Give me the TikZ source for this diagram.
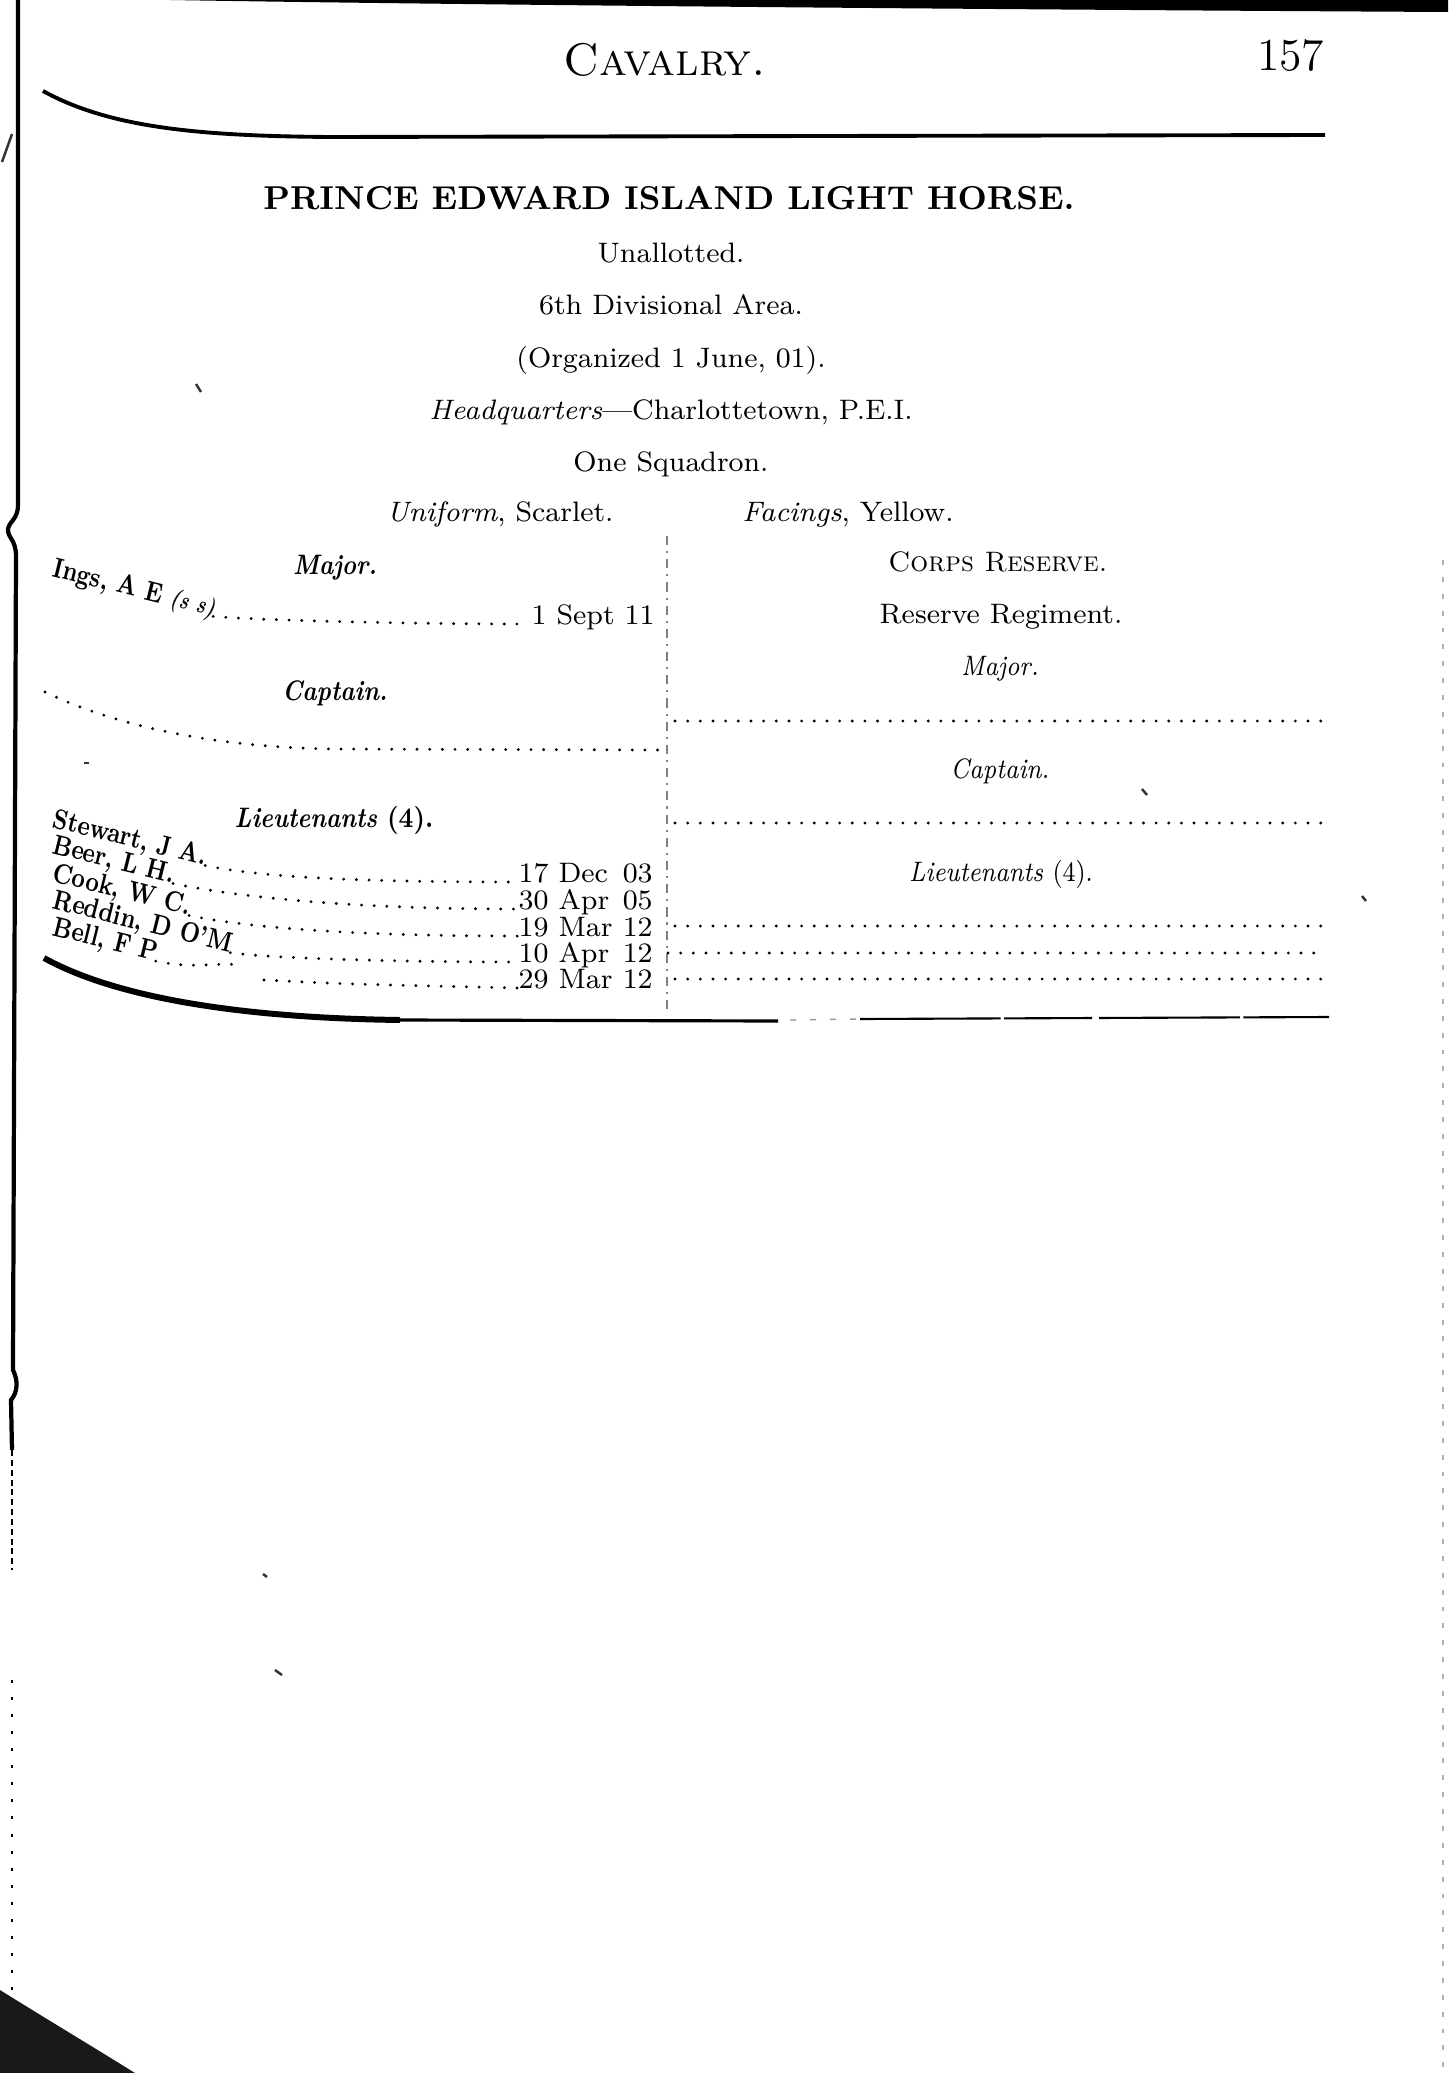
\documentclass[tikz,border=0pt]{standalone}
\usepackage{tikz}
\usetikzlibrary{positioning}

\begin{document}
\begin{tikzpicture}[
  x=0.01cm, y=-0.01cm,
  node distance=0.197cm,
  font=\fontsize{8}{10}\selectfont,
  textline/.style={inner sep=0pt, text height=1.6ex, text depth=.45ex},
  unithead/.style={inner sep=0pt, font=\fontsize{9.4}{11}\selectfont\bfseries},
  rankL/.style={textline, xscale=0.86, font=\fontsize{8}{10}\selectfont\bfseries\itshape},
  rankR/.style={textline, xscale=0.87, font=\fontsize{8}{10}\selectfont\itshape},
  officer/.style={inner sep=0pt, anchor=base west, rotate=-14, xscale=0.78,
    font=\fontsize{8}{10}\selectfont\bfseries},
  seniority/.style={inner sep=0pt, anchor=base west},
  leader/.style={line width=0.9pt, line cap=round, dash pattern=on 0pt off 3.6pt},
  pagerule/.style={line width=1.1pt},
  scanmark/.style={line width=0.7pt, black!80}
]
\useasboundingbox (0,0) rectangle (1448,2073);
\fill[white] (0,0) rectangle (1448,2073);

% running head
\fill (170,0) -- (1448,0) -- (1448,12) .. controls (900,9) and (400,4) .. (170,0) -- cycle;
\node[inner sep=0pt, anchor=base, font=\fontsize{13}{15}\selectfont] (runhead) at (665,76) {\textsc{Cavalry.}};
\node[inner sep=0pt, anchor=base east, font=\fontsize{13}{15}\selectfont] (pageno) at (1325,71) {157};
\draw[pagerule] (43,91) .. controls (110,128) and (200,136) .. (330,137) -- (1325,135);

% unit heading
\node[unithead] (unit) at (669,198) {PRINCE EDWARD ISLAND LIGHT HORSE.};
\node[textline] (allot) at (671,254) {Unallotted.};
\node[textline, below=of allot] (area) {6th Divisional Area.};
\node[textline, below=of area] (organized) {(Organized 1 June, 01).};
\node[textline, below=of organized] (hq) {\textit{Headquarters}---Charlottetown, P.E.I.};
\node[textline, below=of hq] (squadron) {One Squadron.};
\node[textline] (uniform) at (500,513) {\textit{Uniform}, Scarlet.};
\node[textline] (facings) at (848,513) {\textit{Facings}, Yellow.};

% column divider
\draw[black!50, line width=0.4pt, dash pattern=on 2.6pt off 1.7pt on 0.6pt off 1.7pt] (667,536) -- (667,1012);

% left column: active list
\node[rankL] (majorL) at (335,566) {Major.};
\node[officer] (ings) at (51,576) {Ings, A E {\scriptsize\itshape(s s)}};
\node[seniority] (ingsdate) at (531,624) {1 Sept 11};
\draw[leader] (ings.base east) .. controls +(5:40) and +(-120,0) .. ([xshift=-2pt]ingsdate.base west);

\node[rankL] (captainL) at (335,692) {Captain.};
\draw[leader] (45,692) .. controls (120,728) and (220,747) .. (330,749) -- (660,750);

\node[rankL] (lieutsL) at (334,819) {Lieutenants \textup{(4).}};
\node[officer] (stewart) at (51,827) {Stewart, J A.};
\node[officer] (beer) at (51,853) {Beer, L H.};
\node[officer] (cook) at (51,881) {Cook, W C.};
\node[officer] (reddin) at (51,908) {Reddin, D O'M};
\node[officer] (bell) at (51,935) {Bell, F P};
\node[seniority] (stewartdate) at (518,882) {\makebox[3.7em][l]{17 Dec}03};
\node[seniority] (beerdate) at (518,909) {\makebox[3.7em][l]{30 Apr}05};
\node[seniority] (cookdate) at (518,936) {\makebox[3.7em][l]{19 Mar}12};
\node[seniority] (reddindate) at (518,962) {\makebox[3.7em][l]{10 Apr}12};
\node[seniority] (belldate) at (518,988) {\makebox[3.7em][l]{29 Mar}12};
\draw[leader] (stewart.base east) .. controls +(12:60) and +(-150,0) .. (stewartdate.base west);
\draw[leader] (beer.base east) .. controls +(12:70) and +(-160,0) .. (beerdate.base west);
\draw[leader] (cook.base east) .. controls +(12:60) and +(-160,0) .. (cookdate.base west);
\draw[leader] (reddin.base east) .. controls +(8:40) and +(-120,0) .. (reddindate.base west);
\coordinate (bellgap) at (243,965);
\coordinate (bellrest) at (264,980);
\draw[leader] (bell.base east) .. controls +(12:40) and +(-30,-3) .. (bellgap);
\draw[leader] (bellrest) .. controls +(80,4) .. (belldate.base west);

% right column: corps reserve
\node[textline] (corps) at (998,563) {\textsc{Corps Reserve.}};
\node[textline] (regiment) at (1001,615) {Reserve Regiment.};
\node[rankR] (majorR) at (1000,667) {Major.};
\draw[leader] (675,721) -- (1324,721);
\node[rankR] (captainR) at (1000,770) {Captain.};
\draw[leader] (675,823) -- (1324,823);
\node[rankR] (lieutsR) at (1001,873) {Lieutenants \textup{(4).}};
\draw[leader] (675,926) -- (1324,926);
\draw[leader] (668,953) -- (1324,953);
\draw[leader] (675,979) -- (1324,979);

% foot rule
\draw[pagerule, line width=1.7pt] (44,958) .. controls (120,1000) and (250,1018) .. (400,1020);
\draw[pagerule, line width=0.9pt] (400,1020) -- (778,1021);
\draw[line width=0.6pt, dash pattern=on 40pt off 1pt on 25pt off 2pt] (860,1019) -- (1329,1017);
\draw[black!40, line width=0.4pt, dash pattern=on 1.7pt off 4pt] (790,1020) -- (858,1019);

% page edge and scan marks
\draw[line width=1.2pt] (18,0) -- (18,505) .. controls (18,520) and (8,522) .. (8,530)
  .. controls (8,538) and (16,540) .. (16,556) -- (13,1370) .. controls (18,1380) and (18,1392) .. (11,1400)
  -- (12,1450);
\draw[line width=0.7pt, dash pattern=on 1.7pt off 1.1pt] (12,1450) -- (12,1570);
\draw[line width=0.7pt, dash pattern=on 0.85pt off 4pt] (12,1680) -- (12,1995);
\draw[scanmark] (2,162) -- (12,134);
\draw[black!30, line width=0.4pt, dash pattern=on 1.4pt off 3.4pt] (1443,560) -- (1443,2073);
\fill[black!90] (0,1990) .. controls (40,2015) and (90,2045) .. (135,2073) -- (0,2073) -- cycle;
\draw[scanmark] (196,384) -- (201,392);
\draw[scanmark] (1142,789) -- (1147,795);
\draw[scanmark] (1362,896) -- (1366,901);
\draw[scanmark] (263,1574) -- (267,1577);
\draw[scanmark] (275,1670) -- (282,1675);
\draw[scanmark] (84,763) -- (89,763);
\end{tikzpicture}
\end{document}
